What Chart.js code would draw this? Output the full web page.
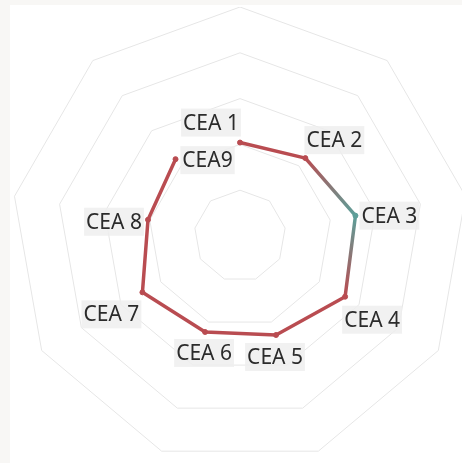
<!DOCTYPE html>
<html>
<head>
<meta charset="utf-8">
<script src="https://cdn.jsdelivr.net/npm/chart.js@4/dist/chart.umd.min.js"></script>
<style>
  html, body { margin: 0; padding: 0; width: 462px; height: 463px; overflow: hidden; background: #f8f7f5; }
  #paper { position: absolute; left: 10px; top: 5px; right: 0; bottom: 0; background: #fff; overflow: hidden; }
  #wrap { position: absolute; left: 1px; top: 2px; width: 458px; height: 458px; }
</style>
</head>
<body>
<div id="paper"><div id="wrap"><canvas id="radar"></canvas></div></div>
<script>
// axis names and scores
const categories = ['CEA 1', 'CEA 2', 'CEA 3', 'CEA 4', 'CEA 5', 'CEA 6', 'CEA 7', 'CEA 8', 'CEA9'];
const scores = [2.04, 2.22, 2.56, 2.65, 2.30, 2.23, 2.46, 2.04, 2.19];
const scaleMin = 0;
const scaleMax = 5;

const RED = '#b94c51';
const TEAL = '#5d9f99';
const highlightIndex = 2;

// where each label sits relative to its point (text centre offset)
const labelOffsets = [
    [-29, -20], [29, -18], [34, 0], [27, 23], [-1, 22],
    [-1, 21], [-31, 22], [-34, 2], [32, 1]
];

// colour the line by angle so it fades into teal around the highlighted axis
function lineColor(ctx) {
    const chart = ctx.chart;
    const r = chart.scales.r;
    if (!r || r.xCenter === undefined) return RED;
    const n = categories.length;
    const g = chart.ctx.createConicGradient(-Math.PI / 2, r.xCenter, r.yCenter);
    g.addColorStop(0, RED);
    g.addColorStop((highlightIndex - 1) / n, RED);
    g.addColorStop(highlightIndex / n, TEAL);
    g.addColorStop((highlightIndex + 1) / n, RED);
    g.addColorStop(1, RED);
    return g;
}

// the reference path is left open between the last and first axis
const openPath = {
    id: 'openPath',
    afterDatasetUpdate(chart, args) {
        const line = args.meta.dataset;
        line._loop = false;
        line._fullLoop = false;
        delete line._segments;
        delete line._path;
    }
};

const labelPlugin = {
    id: 'pointTextLabels',
    afterDatasetsDraw(chart) {
        const meta = chart.getDatasetMeta(0);
        const c = chart.ctx;
        c.save();
        c.font = '21px "Noto Sans"';
        c.textAlign = 'center';
        c.textBaseline = 'middle';
        meta.data.forEach((pt, i) => {
            const x = pt.x + labelOffsets[i][0];
            const y = pt.y + labelOffsets[i][1];
            const w = c.measureText(categories[i]).width;
            c.fillStyle = 'rgba(238, 238, 238, 0.85)';
            c.fillRect(x - w / 2 - 2, y - 14, w + 4, 28);
            c.fillStyle = '#2b2b2b';
            c.fillText(categories[i], x, y + 1);
        });
        c.restore();
    }
};

new Chart(document.getElementById('radar'), {
    type: 'radar',
    data: {
        labels: categories,
        datasets: [{
            data: scores,
            fill: false,
            borderColor: lineColor,
            borderWidth: 3.5,
            borderJoinStyle: 'round',
            borderCapStyle: 'round',
            pointRadius: 2.5,
            pointBorderWidth: 1,
            pointBorderColor: ctx => ctx.dataIndex === highlightIndex ? TEAL : RED,
            pointBackgroundColor: ctx => ctx.dataIndex === highlightIndex ? TEAL : RED
        }]
    },
    options: {
        responsive: true,
        maintainAspectRatio: false,
        animation: false,
        plugins: {
            legend: { display: false },
            tooltip: { enabled: false }
        },
        scales: {
            r: {
                min: scaleMin,
                max: scaleMax,
                ticks: { display: false, stepSize: 1 },
                grid: { color: '#e6e6e6', lineWidth: 1 },
                angleLines: { display: false },
                pointLabels: { display: false }
            }
        }
    },
    plugins: [openPath, labelPlugin]
});
</script>
</body>
</html>
